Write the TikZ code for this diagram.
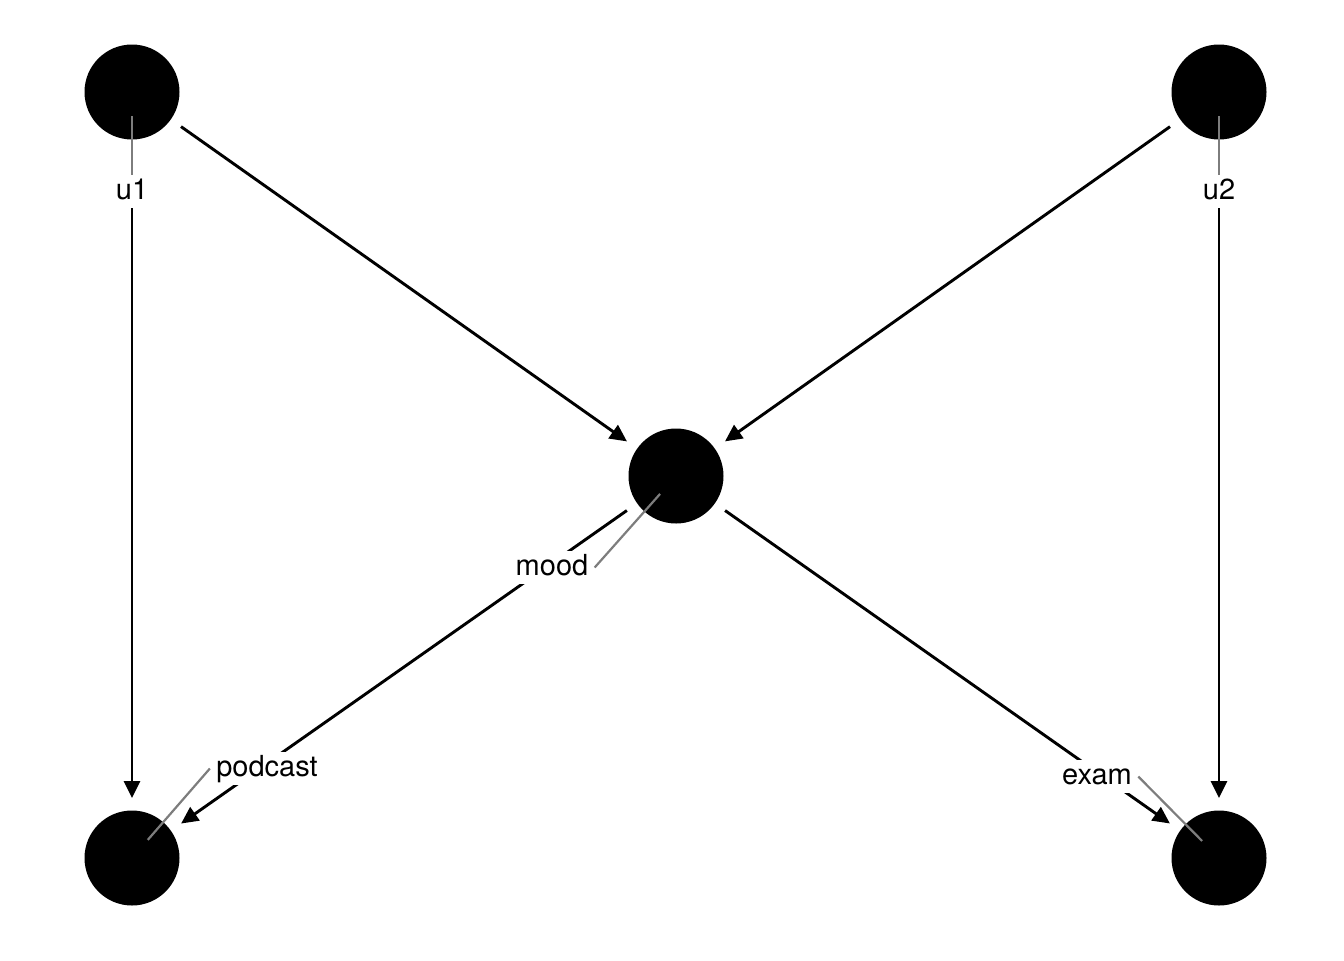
\documentclass[tikz,border=0pt]{standalone}
\usepackage{fontspec}
\setmainfont{TeX Gyre Heros}
\usetikzlibrary{arrows.meta}
\definecolor{seggray}{RGB}{125,125,125}

\begin{document}
\begin{tikzpicture}[x=0.5pt,y=-0.5pt,
  dagnode/.style={circle,fill=black,minimum size=47.5pt,inner sep=0pt,outer sep=6.25pt},
  dagedge/.style={line width=1.45pt,-{Triangle[length=8.5pt,width=8pt]}},
  lbl/.style={fill=white,font=\fontsize{14.5}{17}\selectfont,inner xsep=3pt,inner ysep=1.5pt,
    text height=10.5pt,text depth=3pt,anchor=base},
  lblline/.style={draw=seggray,line width=1.1pt,shorten <=12pt}]
  \useasboundingbox (0,0) rectangle (1344,960);
  % nodes
  \node[dagnode] (u1) at (132,92) {};
  \node[dagnode] (u2) at (1219,92) {};
  \node[dagnode] (mood) at (676,476) {};
  \node[dagnode] (podcast) at (132,858) {};
  \node[dagnode] (exam) at (1219,858) {};
  % edges
  \foreach \a/\b in {u1/mood,u2/mood,mood/podcast,mood/exam,u1/podcast,u2/exam}
    \draw[dagedge] (\a) -- (\b);
  % labels
  \node[lbl] (u1-l) at (132,199) {u1};
  \node[lbl] (u2-l) at (1219,199) {u2};
  \node[lbl] (mood-l) at (552,575) {mood};
  \node[lbl] (podcast-l) at (267,776) {podcast};
  \node[lbl] (exam-l) at (1097,784) {exam};
  \draw[lblline] (u1.center) -- (u1-l.north);
  \draw[lblline] (u2.center) -- (u2-l.north);
  \draw[lblline] (mood.center) -- (mood-l.east);
  \draw[lblline] (podcast.center) -- (podcast-l.west);
  \draw[lblline] (exam.center) -- (exam-l.east);
\end{tikzpicture}
\end{document}
